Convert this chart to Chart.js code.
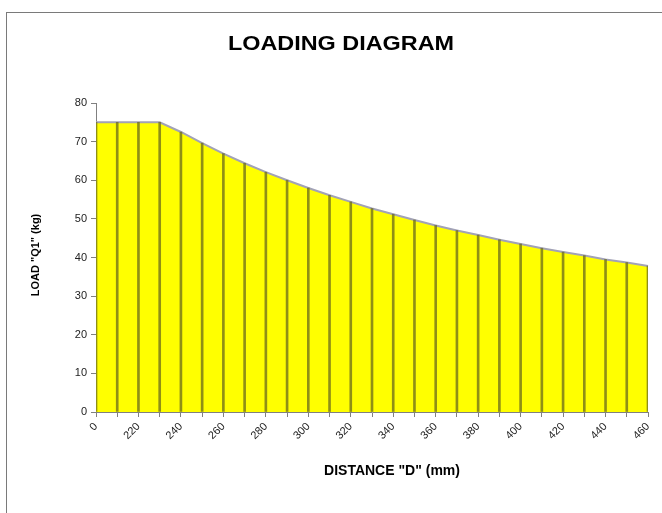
<!DOCTYPE html>
<html>
<head>
<meta charset="utf-8">
<script src="https://cdn.jsdelivr.net/npm/chart.js@4/dist/chart.umd.min.js"></script>
<style>
  body { margin: 0; overflow: hidden; background: #fff; }
  #frame { position: absolute; left: 6px; top: 12px; width: 720px; height: 600px; border: 1px solid #7a7a7a; }
  #myChart { position: absolute; left: 0; top: 0; }
</style>
</head>
<body>
<div id="frame"></div>
<canvas id="myChart" width="662" height="513"></canvas>
<script>
// distance categories (mm), only every second one is labelled
var distances = ['0','210','220','230','240','250','260','270','280','290','300','310','320','330','340','350','360','370','380','390','400','410','420','430','440','450','460'];
// load Q1 (kg)
var loads = [75,75,75,75,72.5,69.6,66.9,64.4,62.1,60.0,58.0,56.1,54.4,52.7,51.2,49.7,48.3,47.0,45.8,44.6,43.5,42.4,41.4,40.5,39.5,38.7,37.8];
var yTicks = { min: 0, max: 80, step: 10 };

var chartTitle = 'LOADING DIAGRAM';
var xTitle = 'DISTANCE "D" (mm)';
var yTitle = 'LOAD "Q1" (kg)';

var FONT = '"Liberation Sans", Arial, sans-serif';

var titles = {
  id: 'titles',
  afterDraw: function(chart) {
    var c = chart.ctx;
    c.save();
    c.fillStyle = '#000';
    c.textAlign = 'center';
    c.textBaseline = 'alphabetic';

    // main title, slightly stretched like the original
    c.save();
    c.font = 'bold 20px ' + FONT;
    c.translate(341, 50);
    c.scale(1.17, 1);
    c.fillText(chartTitle, 0, 0);
    c.restore();

    c.font = 'bold 14px ' + FONT;
    c.fillText(xTitle, 392, 475);

    c.save();
    c.font = 'bold 11px ' + FONT;
    c.translate(39, 255);
    c.rotate(-Math.PI / 2);
    c.fillText(yTitle, 0, 0);
    c.restore();

    c.restore();
  }
};

window.onload = function() {
  var ctx = document.getElementById('myChart').getContext('2d');
  var myChart = new Chart(ctx, {
    type: 'line',
    data: {
      labels: distances,
      datasets: [{
        type: 'bar',
        data: loads,
        backgroundColor: 'rgba(105,105,30,0.75)',
        borderWidth: 0,
        barThickness: 2,
        order: 1
      }, {
        type: 'line',
        data: loads,
        fill: 'origin',
        backgroundColor: '#ffff00',
        borderColor: '#a2a2b6',
        borderWidth: 2,
        pointRadius: 0,
        tension: 0,
        order: 2
      }]
    },
    options: {
      responsive: false,
      animation: false,
      layout: { padding: { top: 103, right: 14, bottom: 0, left: 0 } },
      plugins: {
        legend: { display: false },
        tooltip: { enabled: false }
      },
      scales: {
        x: {
          offset: false,
          grid: { offset: false, drawOnChartArea: false, tickLength: 5, color: '#808080' },
          border: { color: '#808080', width: 1 },
          ticks: {
            autoSkip: false,
            minRotation: 45,
            maxRotation: 45,
            padding: 3,
            color: '#222',
            font: { family: FONT, size: 11 },
            callback: function(val, i) { return i % 2 === 0 ? distances[i] : ''; }
          },
          afterFit: function(scale) { scale.height = 101; }
        },
        y: {
          min: yTicks.min,
          max: yTicks.max,
          grid: { drawOnChartArea: false, tickLength: 5, color: '#808080' },
          border: { color: '#808080', width: 1 },
          ticks: {
            stepSize: yTicks.step,
            padding: 4,
            color: '#222',
            font: { family: FONT, size: 11 }
          },
          afterFit: function(scale) { scale.width = 96; }
        }
      }
    },
    plugins: [titles]
  });
};
</script>
</body>
</html>
